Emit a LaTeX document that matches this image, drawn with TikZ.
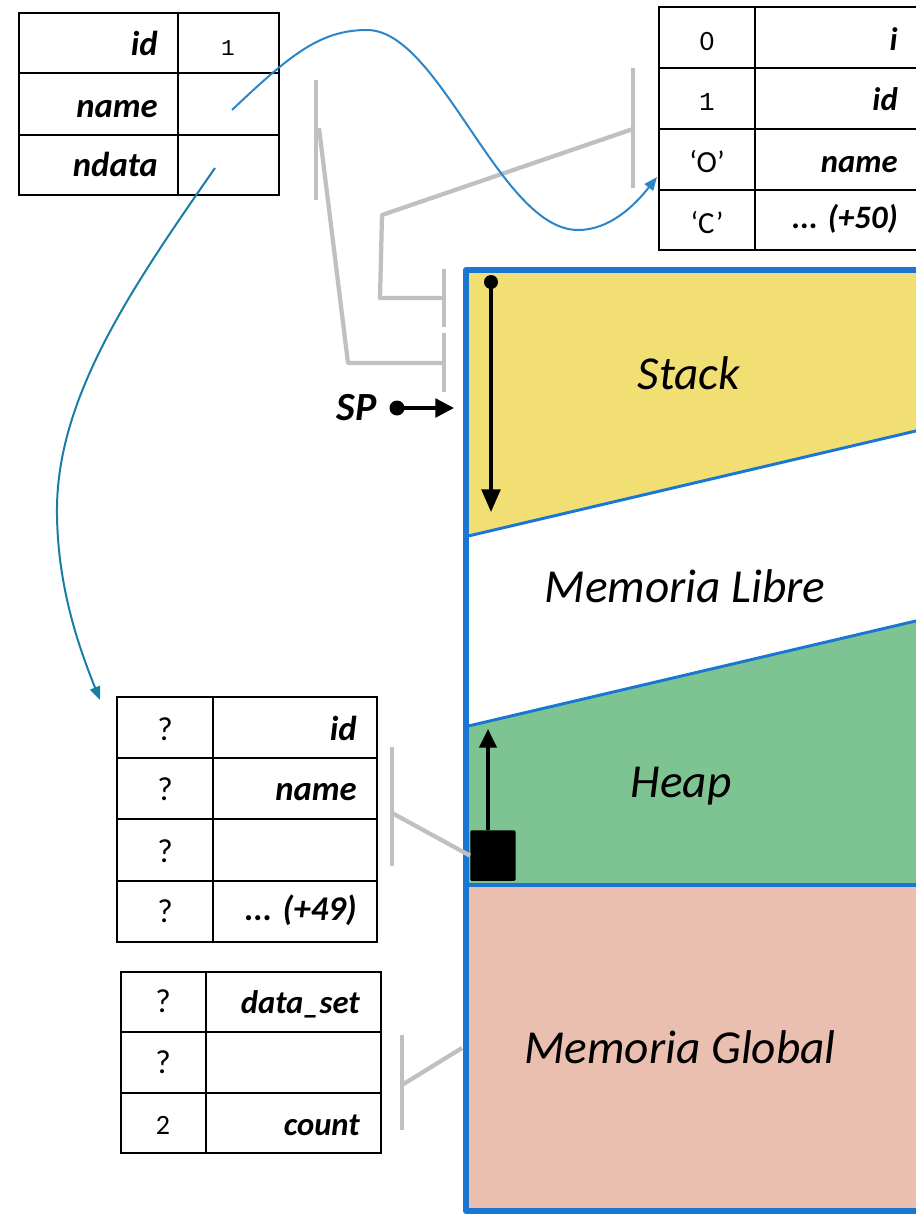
\documentclass[tikz,border=0pt]{standalone}
\usepackage{fontspec}
\setmainfont{Carlito}
\newfontfamily\monofont{Liberation Mono}
\usetikzlibrary{arrows.meta}
\definecolor{memblue}{HTML}{1976D2}
\definecolor{stackyellow}{HTML}{F2DF74}
\definecolor{heapgreen}{HTML}{7EC492}
\definecolor{globpink}{HTML}{EABFB0}
\definecolor{brgray}{HTML}{C0C0C0}
\definecolor{curveA}{HTML}{2A86C8}
\definecolor{curveB}{HTML}{1A7DA6}
\begin{document}
\begin{tikzpicture}[x=0.75pt,y=-0.75pt,
  tbl/.style={draw=black,line width=1.8pt},
  fldA/.style={font=\fontsize{26}{30}\selectfont\bfseries\itshape,anchor=base east,inner sep=0pt},
  fldB/.style={font=\fontsize{24.5}{28}\selectfont\bfseries\itshape,anchor=base east,inner sep=0pt},
  valA/.style={font=\fontsize{25}{30}\selectfont,anchor=base,inner sep=0pt},
  valB/.style={font=\fontsize{23}{26}\selectfont,anchor=base,inner sep=0pt},
  monoval/.style={font=\monofont\fontsize{17}{20}\selectfont,anchor=base,inner sep=0pt},
  monovalB/.style={font=\monofont\fontsize{19.5}{22}\selectfont,anchor=base,inner sep=0pt},
  oldval/.style={font=\fontsize{21}{24}\selectfont,anchor=base,inner sep=0pt},
  memlabel/.style={font=\fontsize{35.5}{40}\selectfont\itshape,anchor=base,inner sep=0pt},
  bracket/.style={draw=brgray,line width=3.2pt},
  ptr/.style={line width=1.5pt,-{Triangle[length=10pt,width=8pt]}},
  blk/.style={line width=2.6pt}
]
\useasboundingbox (0,0) rectangle (915,1217);

% ---------------- memory block ----------------
\fill[stackyellow] (464,268) -- (920,268) -- (920,430) -- (464,537) -- cycle;
\fill[heapgreen] (464,727) -- (920,620) -- (920,885) -- (464,885) -- cycle;
\fill[globpink] (464,885) rectangle (920,1213);
\draw[memblue,line width=2.2pt] (464,537) -- (920,430);
\draw[memblue,line width=2.2pt] (464,727) -- (920,620);
\draw[memblue,line width=3.6pt] (464,885) -- (920,885);
\draw[memblue,line width=4.6pt,line join=round] (925,270) -- (466,270) -- (466,1211) -- (925,1211);

\node[memlabel] (stack) at (689,389) {Stack};
\node[memlabel] (libre) at (685,602) {Memoria Libre};
\node[memlabel] (heap) at (681,797) {Heap};
\node[memlabel] (global) at (680,1063) {Memoria Global};

% stack pointer growth
\coordinate (stacktop) at (491,282);
\coordinate (stackend) at (491,512);
\fill (stacktop) circle (7);
\draw[blk,-{Triangle[length=17pt,width=14pt]}] (stacktop) -- (stackend);

% heap block
\node[fill=black,minimum width=34pt,minimum height=38pt,inner sep=0pt,rounded corners=1pt,anchor=north west] (hblock) at (470,830) {};
\coordinate (heapend) at (488,729);
\draw[blk,-{Triangle[length=14pt,width=13pt]}] (hblock.north west -| heapend) -- (heapend);

% SP
\node[font=\fontsize{30}{34}\selectfont\bfseries\itshape,anchor=base east,inner sep=0pt] (sp) at (377,420) {SP};
\coordinate (spdot) at (397,408);
\coordinate (sptip) at (454,408);
\fill (spdot) circle (7.5);
\draw[blk,-{Triangle[length=14pt,width=14pt]}] (spdot) -- (sptip);

% ---------------- top-left table ----------------
\draw[tbl] (19,13) rectangle (279,195);
\draw[tbl] (178,13) -- (178,195);
\draw[tbl] (19,73) -- (279,73);
\draw[tbl] (19,135) -- (279,135);
\node[fldA] (tlid) at (158,55) {id};
\node[fldA] (tlname) at (158,117) {name};
\node[fldA] (tlndata) at (158,176) {ndata};
\node[monoval] (tlone) at (228,55) {1};
\coordinate (tlnamecell) at (232,110);
\coordinate (tlndatacell) at (215,168);

% ---------------- top-right table ----------------
\draw[tbl] (659,7) rectangle (925,250);
\draw[tbl] (755,7) -- (755,250);
\foreach \yy in {68,129,190} \draw[tbl] (659,\yy) -- (925,\yy);
\node[oldval] (trzero) at (707,50) {0};
\node[monovalB] (trone) at (707,110) {1};
\node[valB] (trO) at (707,172) {‘O’};
\node[valB] (trC) at (707,233) {‘C’};
\node[fldB] (tri) at (898,50) {i};
\node[fldB] (trid) at (898,110) {id};
\node[fldB] (trname) at (898,172) {name};
\node[fldB] (trrest) at (898,228) {... (+50)};
\coordinate (trOcell) at (657,177);

% ---------------- heap table ----------------
\draw[tbl] (117,697) rectangle (377,942);
\draw[tbl] (213,697) -- (213,942);
\foreach \yy in {758,819,881} \draw[tbl] (117,\yy) -- (377,\yy);
\node[valA] (hq1) at (165,740) {?};
\node[valA] (hq2) at (165,800) {?};
\node[valA] (hq3) at (165,862) {?};
\node[valA] (hq4) at (165,922) {?};
\node[fldA] (hid) at (357,740) {id};
\node[fldA] (hname) at (357,800) {name};
\node[fldA] (hrest) at (357,920) {... (+49)};
\coordinate (heaptbl) at (100,700);

% ---------------- global table ----------------
\draw[tbl] (121,972) rectangle (381,1153);
\draw[tbl] (206,972) -- (206,1153);
\draw[tbl] (121,1032) -- (381,1032);
\draw[tbl] (121,1093) -- (381,1093);
\node[valA] (gq1) at (163,1012) {?};
\node[valA] (gq2) at (163,1073) {?};
\node[oldval] (gtwo) at (163,1134) {2};
\node[fldB] (gdata) at (360,1013) {data\_set};
\node[fldB] (gcount) at (360,1135) {count};

% ---------------- gray brackets ----------------
\draw[bracket] (316,80) -- (316,200);
\draw[bracket,line join=round] (319,128) -- (348,363) -- (444,363);
\draw[bracket] (444,333) -- (444,392);

\draw[bracket] (633,68) -- (633,188);
\draw[bracket,line join=round] (633,129) -- (382,215) -- (380,298) -- (444,298);
\draw[bracket] (444,269) -- (444,327);

\draw[bracket] (392,747) -- (392,866);
\draw[bracket] (392,813) -- (hblock.west);

\draw[bracket] (402,1035) -- (402,1130);
\draw[bracket] (402,1085) -- (462,1048);

% ---------------- pointer curves ----------------
\draw[ptr,curveA] (tlnamecell) .. controls (290,55) and (320,30) .. (367,30)
   .. controls (440,30) and (500,230) .. (578,230)
   .. controls (610,230) and (635,205) .. (trOcell);
\draw[ptr,curveB] (tlndatacell) .. controls (130,290) and (55,400) .. (57,515)
   .. controls (58,590) and (80,650) .. (heaptbl);
\end{tikzpicture}
\end{document}
